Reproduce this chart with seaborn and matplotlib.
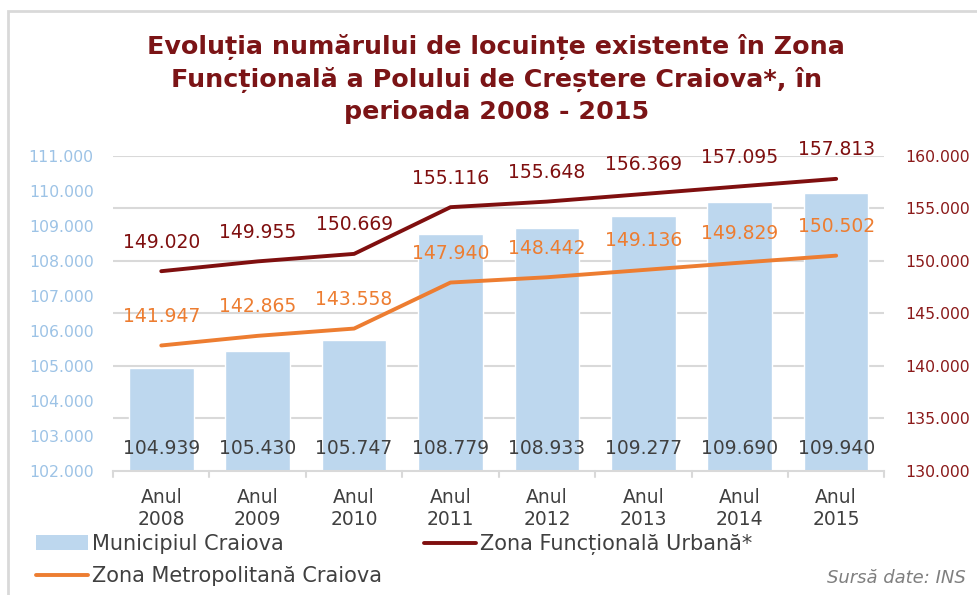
import numpy as np
import pandas as pd
import matplotlib
matplotlib.use("Agg")
import matplotlib.pyplot as plt
import seaborn as sns
from matplotlib.patches import Rectangle, Patch
from matplotlib.lines import Line2D

# Housing stock data, 2008-2015
years = ["2008", "2009", "2010", "2011", "2012", "2013", "2014", "2015"]
municipiul = [104939, 105430, 105747, 108779, 108933, 109277, 109690, 109940]
zona_functionala = [149020, 149955, 150669, 155116, 155648, 156369, 157095, 157813]
zona_metropolitana = [141947, 142865, 143558, 147940, 148442, 149136, 149829, 150502]

left_ticks = list(range(102000, 111001, 1000))
right_ticks = list(range(130000, 160001, 5000))

BAR = "#BDD7EE"
DARKRED = "#7F0F0F"
ORANGE = "#ED7D31"
LEFT_TICK = "#9DC3E6"
RIGHT_TICK = "#8B1A1A"
GRID = "#D9D9D9"
TEXT = "#404040"

sns.set_theme(style="white")
plt.rcParams["font.family"] = ["DejaVu Sans"]


def fmt(v):
    return f"{v:,}".replace(",", ".")


df = pd.DataFrame({
    "an": [f"Anul\n{y}" for y in years],
    "pos": np.arange(len(years)),
    "Municipiul Craiova": municipiul,
    "Zona Funcțională Urbană*": zona_functionala,
    "Zona Metropolitană Craiova": zona_metropolitana,
})

fig = plt.figure(figsize=(9.77, 5.95), dpi=100)
ax = fig.add_axes([0.1157, 0.2085, 0.7895, 0.5295])
ax2 = ax.twinx()

lmin, lmax = left_ticks[0], left_ticks[-1]
rmin, rmax = right_ticks[0], right_ticks[-1]

# horizontal grid at the right-axis ticks, drawn behind the bars
for t in right_ticks[1:]:
    yl = lmin + (t - rmin) * (lmax - lmin) / (rmax - rmin)
    ax.axhline(yl, color=GRID, lw=1.5, zorder=0)

sns.barplot(data=df, x="an", y="Municipiul Craiova", color=BAR, width=0.67,
            saturation=1, ax=ax, zorder=2)
ax.set_ylim(lmin, lmax)
ax.set_xlim(-0.5, len(years) - 0.5)

sns.lineplot(data=df, x="pos", y="Zona Funcțională Urbană*", color=DARKRED,
             lw=2.8, ax=ax2)
sns.lineplot(data=df, x="pos", y="Zona Metropolitană Craiova", color=ORANGE,
             lw=2.8, ax=ax2)
ax2.set_ylim(rmin, rmax)
ax2.set_xlim(-0.5, len(years) - 0.5)

# value labels
for i, v in enumerate(municipiul):
    ax.text(i, lmin + 650, fmt(v), ha="center", va="center",
            fontsize=13.5, color=TEXT, zorder=5)
for i, v in enumerate(zona_functionala):
    ax2.annotate(fmt(v), (i, v), xytext=(0, 21), textcoords="offset points",
                 ha="center", va="center", fontsize=13.5, color=DARKRED)
for i, v in enumerate(zona_metropolitana):
    ax2.annotate(fmt(v), (i, v), xytext=(0, 21), textcoords="offset points",
                 ha="center", va="center", fontsize=13.5, color=ORANGE)

# axes styling
ax.set_yticks(left_ticks)
ax.set_yticklabels([fmt(t) for t in left_ticks], color=LEFT_TICK, fontsize=11.3)
ax2.set_yticks(right_ticks)
ax2.set_yticklabels([fmt(t) for t in right_ticks], color=RIGHT_TICK, fontsize=11.3)
ax.tick_params(axis="y", length=0, pad=14)
ax2.tick_params(axis="y", length=0, pad=15)
ax.set_xlabel("")
ax.set_ylabel("")
ax2.set_xlabel("")
ax2.set_ylabel("")
ax.set_xticks(np.arange(len(years)))
ax.set_xticklabels(df["an"], fontsize=13.5, color=TEXT, linespacing=1.2)
ax.tick_params(axis="x", length=0, pad=12)
ax2.tick_params(axis="x", bottom=False, top=False, labelbottom=False,
                labeltop=False)

# category boundary ticks on the baseline
for b in np.arange(-0.5, len(years) + 0.5, 1.0):
    ax.plot([b, b], [0, -0.02], transform=ax.get_xaxis_transform(),
            color=GRID, lw=1.5, clip_on=False)

for a in (ax, ax2):
    for s in ("top", "left", "right", "bottom"):
        a.spines[s].set_visible(False)
ax.spines["bottom"].set_visible(True)
ax.spines["bottom"].set_color(GRID)
ax.spines["bottom"].set_linewidth(1.5)
ax.patch.set_visible(False)
ax2.patch.set_visible(False)

fig.text(0.508, 1 - 79 / 595,
         "Evoluția numărului de locuințe existente în Zona\n"
         "Funcțională a Polului de Creștere Craiova*, în\n"
         "perioada 2008 - 2015",
         ha="center", va="center", fontsize=18.3, fontweight="bold",
         color="#7B1416", linespacing=1.36)

leg_prop = dict(size=15)
leg1 = fig.legend([Patch(facecolor=BAR, edgecolor="none"),
                   Line2D([], [], color=ORANGE, lw=2.8)],
                  ["Municipiul Craiova", "Zona Metropolitană Craiova"],
                  loc="upper left", bbox_to_anchor=(36 / 977, 1 - 534 / 595),
                  frameon=False, handlelength=2.5, handletextpad=0.2,
                  labelspacing=0.58, borderaxespad=0, borderpad=0,
                  prop=leg_prop)
leg2 = fig.legend([Line2D([], [], color=DARKRED, lw=2.8)],
                  ["Zona Funcțională Urbană*"],
                  loc="upper left", bbox_to_anchor=(424 / 977, 1 - 534 / 595),
                  frameon=False, handlelength=2.5, handletextpad=0.2,
                  borderaxespad=0, borderpad=0, prop=leg_prop)
for lg in (leg1, leg2):
    for t in lg.get_texts():
        t.set_color(TEXT)

fig.text(0.988, 1 - 578 / 595, "Sursă date: INS", ha="right", va="center",
         fontsize=13, style="italic", color="#7F7F7F")

# outer frame
fig.patches.append(Rectangle((8 / 977, -0.1), 1.2, 1.1 - 11 / 595,
                             transform=fig.transFigure, fill=False,
                             edgecolor=GRID, lw=2))

fig.savefig("out.png", dpi=100)
